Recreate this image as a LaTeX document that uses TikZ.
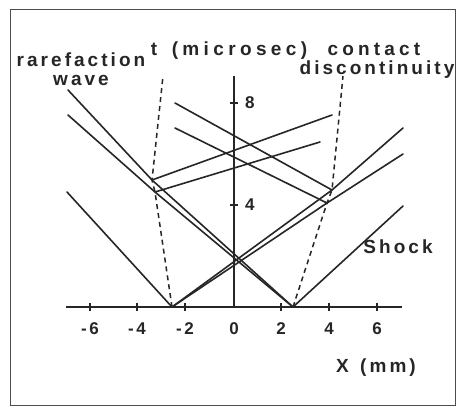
\documentclass[tikz,border=0pt]{standalone}
\usepackage{fontspec}
\newfontfamily\lbf{Liberation Sans}[LetterSpace=16]
\begin{document}
\begin{tikzpicture}[x=1pt,y=-1pt,
  ln/.style={line width=1.6pt,black!85,line cap=round},
  cdline/.style={line width=1.5pt,black!85,dash pattern=on 5pt off 4pt},
  axline/.style={line width=1.5pt,black!85},
  frameline/.style={line width=1pt,black!70},
  lbl/.style={font=\lbf\bfseries\fontsize{19}{22}\selectfont,text=black!85,inner sep=0pt},
  num/.style={font=\lbf\bfseries\fontsize{17}{20}\selectfont,text=black!85,inner sep=0pt}]
\useasboundingbox (0,0) rectangle (458,407);
\fill[white] (0,0) rectangle (458,407);
\draw[frameline] (10,9) rectangle (455,405);
% key points
\coordinate (VL) at (172,307);
\coordinate (VR) at (293,307);
\coordinate (PL1) at (152,180);
\coordinate (PL2) at (155,192);
\coordinate (PR1) at (332,190);
\coordinate (PR2) at (327,203);
\coordinate (CDLtop) at (163,76);
\coordinate (CDRtop) at (343,76);
\coordinate (A1end) at (68,90);
\coordinate (A2end) at (68,115);
\coordinate (B1end) at (403,128);
\coordinate (B2end) at (403,154);
\coordinate (L1end) at (332,115);
\coordinate (L2end) at (320,142);
\coordinate (R1end) at (175,103);
\coordinate (R2end) at (175,128);
\coordinate (SLend) at (67,192);
\coordinate (SRend) at (403,206);
% axes
\coordinate (Xl) at (66,307);
\coordinate (Xr) at (402,307);
\coordinate (O) at (234,307);
\coordinate (Ttop) at (234,76);
\draw[axline] (Xl) -- (Xr);
\draw[axline] (O) -- (Ttop);
\foreach \px in {90,137,185,281,329,377}{
  \draw[axline] (\px,303) -- (\px,311);
}
\foreach \px/\lab in {90/-\hspace{2.5pt}6,137/-\hspace{2.5pt}4,185/-\hspace{2.5pt}2,234/0,281/2,329/4,377/6}{
  \node[num] (xl\px) at (\px,329) {\lab};
}
\draw[axline] (230,103) -- (238,103);
\draw[axline] (230,205) -- (238,205);
\node[num,anchor=west] (t8) at (245,103) {8};
\node[num,anchor=west] (t4) at (245,205) {4};
% contact discontinuities
\draw[cdline] (VL) -- (PL2) -- (PL1) -- (CDLtop);
\draw[cdline] (VR) -- (PR2) -- (PR1) -- (CDRtop);
% waves
\draw[ln] (VR) -- (PL1) -- (A1end);
\draw[ln] (VR) -- (PL2) -- (A2end);
\draw[ln] (VL) -- (PR1) -- (B1end);
\draw[ln] (VL) -- (PR2) -- (B2end);
\draw[ln] (PL1) -- (L1end);
\draw[ln] (PL2) -- (L2end);
\draw[ln] (PR1) -- (R1end);
\draw[ln] (PR2) -- (R2end);
\draw[ln] (VL) -- (SLend);
\draw[ln] (VR) -- (SRend);
% labels
\node[lbl] (tlab) at (229,51) {\addfontfeature{LetterSpace=23}t\hspace{5pt} (microsec)};
\node[lbl,text depth=0pt] (contact) at (374,49) {\addfontfeature{LetterSpace=22}contact};
\node[lbl] (disc) at (377,70) {discontinuity};
\node[lbl] (rare) at (81,60) {rarefaction};
\node[lbl] (wave) at (81,80) {wave};
\node[lbl] (shock) at (398,247) {Shock};
\node[lbl] (xlab) at (376,368) {X\hspace{3pt} (mm)};
\end{tikzpicture}
\end{document}
